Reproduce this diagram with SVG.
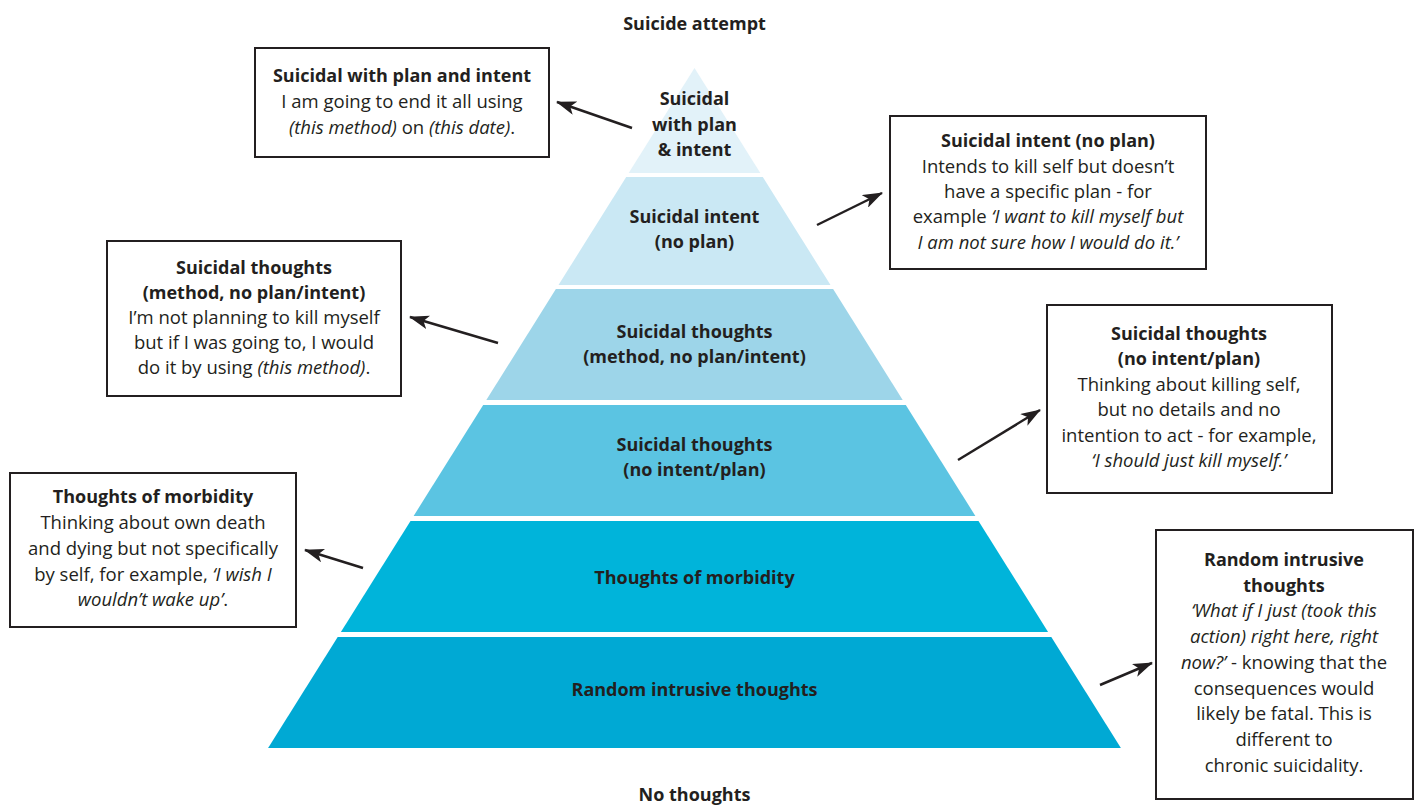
<svg xmlns="http://www.w3.org/2000/svg" width="1419" height="806" viewBox="0 0 1419 806">
<defs>
<marker id="ah" markerUnits="userSpaceOnUse" markerWidth="20" markerHeight="14" refX="19" refY="7" orient="auto">
<path d="M0,0 L20,7 L0,14 L5,7 Z" fill="#231f20"/>
</marker>
<style>
text{font-family:"Open Sans","Noto Sans",sans-serif;fill:#231f20;text-anchor:middle}
.pl{font-size:18px;font-weight:bold}
.bt{font-size:18px;font-weight:bold}
.bx{font-size:18.5px}
.it{font-style:italic}
.box{fill:#fff;stroke:#231f20;stroke-width:2}
.arr{stroke:#231f20;stroke-width:2.5;fill:none;marker-end:url(#ah)}
</style>
</defs>
<rect width="1419" height="806" fill="#fff"/>

<g id="pyramid">
<g id="tier1"><polygon points="694.5,68 760.3,173 628.7,173" fill="#e2f2f9"/>
<text class="pl" x="694.5" y="105">Suicidal</text><text class="pl" x="694.5" y="131">with plan</text><text class="pl" x="694.5" y="156">&amp; intent</text></g>
<g id="tier2"><polygon points="626.2,177 762.8,177 830.5,285 558.5,285" fill="#cae8f4"/>
<text class="pl" x="694.5" y="223">Suicidal intent</text><text class="pl" x="694.5" y="248">(no plan)</text></g>
<g id="tier3"><polygon points="555.9,289 833.1,289 902.7,400 486.3,400" fill="#9dd5e9"/>
<text class="pl" x="694.5" y="338">Suicidal thoughts</text><text class="pl" x="694.5" y="363">(method, no plan/intent)</text></g>
<g id="tier4"><polygon points="483.2,405 905.8,405 975.4,516 413.6,516" fill="#5bc4e2"/>
<text class="pl" x="694.5" y="451">Suicidal thoughts</text><text class="pl" x="694.5" y="476">(no intent/plan)</text></g>
<g id="tier5"><polygon points="410.5,521 978.5,521 1048.1,632 340.9,632" fill="#00b4da"/>
<text class="pl" x="694.5" y="584">Thoughts of morbidity</text></g>
<g id="tier6"><polygon points="337.7,637 1051.3,637 1120.9,748 268.1,748" fill="#00a9d4"/>
<text class="pl" x="694.5" y="696">Random intrusive thoughts</text></g>
</g>

<g id="top-label"><text class="pl" x="694.5" y="30">Suicide attempt</text></g>
<g id="bottom-label"><text class="pl" x="694.5" y="801">No thoughts</text></g>

<g id="box1"><rect class="box" x="255" y="48" width="294" height="109"/>
<text class="bt" x="402" y="82">Suicidal with plan and intent</text>
<text class="bx" x="402" y="108">I am going to end it all using</text>
<text class="bx" x="402" y="134"><tspan class="it">(this method)</tspan> on <tspan class="it">(this date)</tspan>.</text></g>

<g id="box2"><rect class="box" x="890" y="116" width="316" height="153"/>
<text class="bt" x="1048" y="147">Suicidal intent (no plan)</text>
<text class="bx" x="1048" y="173">Intends to kill self but doesn’t</text>
<text class="bx" x="1048" y="198">have a specific plan - for</text>
<text class="bx" x="1048" y="223">example <tspan class="it">‘I want to kill myself but</tspan></text>
<text class="bx it" x="1048" y="249">I am not sure how I would do it.’</text></g>

<g id="box3"><rect class="box" x="107" y="241" width="294" height="155"/>
<text class="bt" x="254" y="274">Suicidal thoughts</text>
<text class="bt" x="254" y="299">(method, no plan/intent)</text>
<text class="bx" x="254" y="324">I’m not planning to kill myself</text>
<text class="bx" x="254" y="349">but if I was going to, I would</text>
<text class="bx" x="254" y="374">do it by using <tspan class="it">(this method)</tspan>.</text></g>

<g id="box4"><rect class="box" x="1047" y="305" width="285" height="188"/>
<text class="bt" x="1189" y="340">Suicidal thoughts</text>
<text class="bt" x="1189" y="365">(no intent/plan)</text>
<text class="bx" x="1189" y="391">Thinking about killing self,</text>
<text class="bx" x="1189" y="416">but no details and no</text>
<text class="bx" x="1189" y="442">intention to act - for example,</text>
<text class="bx it" x="1189" y="467">‘I should just kill myself.’</text></g>

<g id="box5"><rect class="box" x="10" y="473" width="286" height="154"/>
<text class="bt" x="153" y="503">Thoughts of morbidity</text>
<text class="bx" x="153" y="529">Thinking about own death</text>
<text class="bx" x="153" y="555">and dying but not specifically</text>
<text class="bx" x="153" y="581">by self, for example, <tspan class="it">‘I wish I</tspan></text>
<text class="bx" x="153" y="606"><tspan class="it">wouldn’t wake up’</tspan>.</text></g>

<g id="box6"><rect class="box" x="1156" y="530" width="257" height="269"/>
<text class="bt" x="1284" y="566">Random intrusive</text>
<text class="bt" x="1284" y="592">thoughts</text>
<text class="bx it" x="1284" y="617">‘What if I just (took this</text>
<text class="bx it" x="1284" y="643">action) right here, right</text>
<text class="bx" x="1284" y="669"><tspan class="it">now?’</tspan> - knowing that the</text>
<text class="bx" x="1284" y="695">consequences would</text>
<text class="bx" x="1284" y="720">likely be fatal. This is</text>
<text class="bx" x="1284" y="746">different to</text>
<text class="bx" x="1284" y="772">chronic suicidality.</text></g>

<g id="connectors">
<line class="arr" x1="632" y1="128" x2="557" y2="102"/>
<line class="arr" x1="817" y1="225" x2="882" y2="193"/>
<line class="arr" x1="498" y1="343" x2="410" y2="317"/>
<line class="arr" x1="958" y1="460" x2="1040" y2="410"/>
<line class="arr" x1="363" y1="568" x2="305" y2="550"/>
<line class="arr" x1="1100" y1="685" x2="1152" y2="663"/>
</g>
</svg>
